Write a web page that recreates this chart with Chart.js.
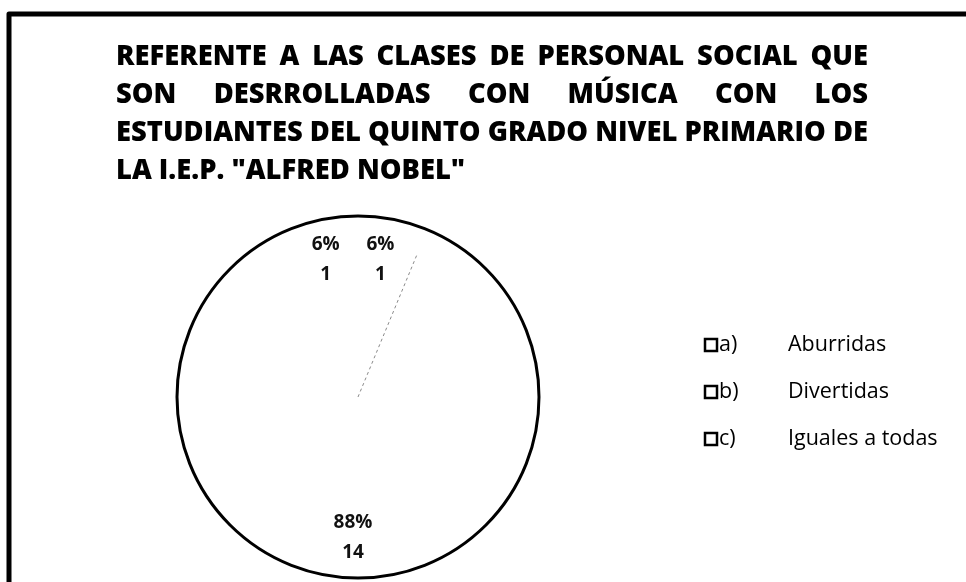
<!DOCTYPE html>
<html lang="es">
<head>
<meta charset="utf-8">
<title>Clases de personal social con música</title>
<script src="https://cdn.jsdelivr.net/npm/chart.js@4.4.1/dist/chart.umd.min.js"></script>
<style>
    html, body { margin: 0; padding: 0; background: #fff; }
    #chart { display: block; }
</style>
</head>
<body>
<canvas id="chart" width="966" height="582"></canvas>
<script>
// datos
const titleLines = [
    'REFERENTE A LAS CLASES DE PERSONAL SOCIAL QUE',
    'SON DESRROLLADAS CON MÚSICA CON LOS',
    'ESTUDIANTES DEL QUINTO GRADO NIVEL PRIMARIO DE',
    'LA I.E.P. "ALFRED NOBEL"'
];
const optionLetters = ['a)', 'b)', 'c)'];
const optionNames = ['Aburridas', 'Divertidas', 'Iguales a todas'];
const counts = [1, 14, 1];

const FONT = '"Open Sans", "DejaVu Sans", sans-serif';

// marco negro (solo arriba y a la izquierda, como en el original)
const framePlugin = {
    id: 'frame',
    beforeDraw(chart) {
        const ctx = chart.ctx;
        ctx.save();
        ctx.fillStyle = '#fff';
        ctx.fillRect(0, 0, chart.width, chart.height);
        ctx.strokeStyle = '#000';
        ctx.lineWidth = 5;
        ctx.lineJoin = 'round';
        ctx.beginPath();
        ctx.moveTo(9, chart.height);
        ctx.lineTo(9, 14);
        ctx.lineTo(chart.width, 14);
        ctx.stroke();
        ctx.restore();
    }
};

// título justificado (letra algo condensada, como Calibri)
const titlePlugin = {
    id: 'justTitle',
    afterDraw(chart) {
        const ctx = chart.ctx;
        const left = 116, right = 868;
        ctx.save();
        ctx.font = '800 28px ' + FONT;
        ctx.fillStyle = '#000';
        ctx.textBaseline = 'alphabetic';
        ctx.textAlign = 'left';
        const natural = ctx.measureText(titleLines[2]).width;
        const sx = (right - left) / natural;
        const avail = (right - left) / sx;
        titleLines.forEach((line, i) => {
            const y = 65 + i * 38;
            ctx.save();
            ctx.translate(left, y);
            ctx.scale(sx, 1);
            const words = line.split(' ');
            if (i < titleLines.length - 1 && words.length > 1) {
                const wordsW = words.reduce((s, w) => s + ctx.measureText(w).width, 0);
                const gap = (avail - wordsW) / (words.length - 1);
                let x = 0;
                words.forEach(w => {
                    ctx.fillText(w, x, 0);
                    x += ctx.measureText(w).width + gap;
                });
            } else {
                ctx.fillText(line, 0, 0);
            }
            ctx.restore();
        });
        ctx.restore();
    }
};

// contorno exterior, línea tenue entre a) y b), etiquetas
const pieLabelsPlugin = {
    id: 'pieLabels',
    afterDatasetsDraw(chart) {
        const ctx = chart.ctx;
        const meta = chart.getDatasetMeta(0);
        const total = counts.reduce((a, b) => a + b, 0);
        if (!meta.data.length) return;

        const first = meta.data[0].getProps(['x', 'y', 'endAngle', 'outerRadius'], true);
        ctx.save();
        // la única división que se ve en el original (punteada y clara)
        ctx.strokeStyle = '#8a8a8a';
        ctx.lineWidth = 1;
        ctx.setLineDash([3, 3]);
        ctx.beginPath();
        ctx.moveTo(first.x, first.y);
        ctx.lineTo(first.x + Math.cos(first.endAngle) * first.outerRadius * 0.86,
                   first.y + Math.sin(first.endAngle) * first.outerRadius * 0.86);
        ctx.stroke();
        ctx.setLineDash([]);

        ctx.strokeStyle = '#000';
        ctx.lineWidth = 3;
        ctx.beginPath();
        ctx.arc(first.x, first.y, first.outerRadius, 0, Math.PI * 2);
        ctx.stroke();

        ctx.font = 'bold 19px ' + FONT;
        ctx.fillStyle = '#111';
        ctx.textAlign = 'center';
        ctx.textBaseline = 'middle';
        meta.data.forEach((arc, i) => {
            const p = arc.getProps(['x', 'y', 'startAngle', 'endAngle', 'outerRadius'], true);
            const mid = (p.startAngle + p.endAngle) / 2;
            const r = p.outerRadius * 0.775;
            const lx = p.x + Math.cos(mid) * r - 5;
            const ly = p.y + Math.sin(mid) * r;
            const pct = Math.round(counts[i] / total * 100) + '%';
            ctx.fillText(pct, lx, ly - 15);
            ctx.fillText(String(counts[i]), lx, ly + 15);
        });
        ctx.restore();
    }
};

// leyenda a la derecha
const legendPlugin = {
    id: 'sideLegend',
    afterDraw(chart) {
        const ctx = chart.ctx;
        ctx.save();
        ctx.font = '21.5px ' + FONT;
        ctx.textBaseline = 'middle';
        ctx.textAlign = 'left';
        optionNames.forEach((name, i) => {
            const cy = 345 + i * 47;
            ctx.fillStyle = '#fff';
            ctx.fillRect(705, cy - 6, 12, 12);
            ctx.strokeStyle = '#000';
            ctx.lineWidth = 2.5;
            ctx.strokeRect(705, cy - 6, 12, 12);
            ctx.fillStyle = '#000';
            ctx.fillText(optionLetters[i], 719, cy);
            ctx.fillText(name, 788, cy);
        });
        ctx.restore();
    }
};

new Chart(document.getElementById('chart'), {
    type: 'pie',
    data: {
        labels: optionNames.map((n, i) => optionLetters[i] + ' ' + n),
        datasets: [{
            data: counts,
            backgroundColor: '#ffffff',
            borderWidth: 0
        }]
    },
    plugins: [framePlugin, titlePlugin, pieLabelsPlugin, legendPlugin],
    options: {
        responsive: false,
        animation: false,
        events: [],
        layout: {
            padding: { top: 216, bottom: 4, left: 177, right: 427 }
        },
        plugins: {
            legend: { display: false },
            title: { display: false },
            tooltip: { enabled: false }
        }
    }
});
</script>
</body>
</html>
